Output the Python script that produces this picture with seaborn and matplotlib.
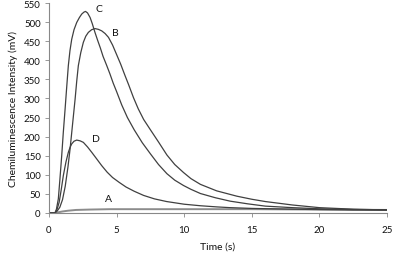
import matplotlib
matplotlib.use('Agg')
import matplotlib.pyplot as plt
import pandas as pd
import seaborn as sns

# Curve data (time in s, intensity in mV)
t_a = [0, 0.44, 0.7, 1.0, 1.4, 2.0, 3.0, 4.5, 7.0, 10.0, 15.0, 20.0, 25.0]
v_a = [0, 0, 2, 4, 6, 8, 9, 10, 10, 10, 10, 9, 8]

t_b = [0, 0.44, 0.6, 0.8, 1.0, 1.2, 1.4, 1.56, 1.75, 1.93, 2.05, 2.17, 2.35, 2.54,
       2.72, 2.91, 3.15, 3.4, 3.65, 3.9, 4.15, 4.4, 4.7, 5.0, 5.3, 5.6, 5.9, 6.25,
       6.6, 7.0, 7.5, 8.1, 8.72, 9.3, 9.95, 10.5, 11.2, 12.4, 13.9, 15.0, 16.0,
       18.0, 20.0, 22.5, 25.0]
v_b = [0, 0, 5, 15, 35, 70, 120, 168, 235, 298, 345, 386, 420, 447,
       463, 473, 480, 483, 481, 477, 470, 460, 440, 415, 390, 362, 335, 302,
       273, 245, 218, 186, 152, 127, 106, 90, 75, 58, 44, 36, 30,
       21, 14, 10, 8]

t_c = [0, 0.44, 0.55, 0.69, 0.8, 0.94, 1.06, 1.19, 1.31, 1.43, 1.55, 1.68, 1.85,
       2.05, 2.25, 2.42, 2.58, 2.7, 2.85, 3.04, 3.2, 3.4, 3.6, 3.8, 4.0, 4.25, 4.5,
       4.75, 5.0, 5.38, 5.8, 6.3, 6.9, 7.5, 8.1, 8.72, 9.3, 9.95, 10.5, 11.2, 12.3,
       13.4, 14.7, 16.0, 18.0, 20.0, 22.5, 25.0]
v_c = [0, 0, 10, 37, 85, 150, 212, 272, 330, 386, 425, 455, 480,
       499, 512, 521, 526, 528, 524, 512, 496, 473, 452, 432, 410, 388, 365,
       340, 318, 283, 250, 218, 184, 155, 127, 103, 86, 72, 62, 51, 40,
       31, 24, 18, 14, 11, 9, 8]

t_d = [0, 0.44, 0.6, 0.75, 0.9, 1.06, 1.25, 1.43, 1.56, 1.68, 1.85, 2.05, 2.3,
       2.54, 2.85, 3.16, 3.5, 3.9, 4.3, 4.7, 5.2, 5.7, 6.3, 7.0, 7.8, 8.7, 10.0,
       11.2, 12.4, 13.4, 15.0, 16.5, 18.0, 20.0, 22.5, 25.0]
v_d = [0, 0, 10, 28, 60, 98, 133, 159, 172, 181, 188, 191, 189,
       185, 173, 159, 143, 124, 107, 93, 80, 68, 57, 46, 37, 30, 23,
       19, 16, 14, 12, 11, 10, 9, 8, 8]

curve_names = ['A', 'B', 'C', 'D']
label_pos = {'A': (4.4, 37), 'B': (4.9, 474), 'C': (3.7, 535), 'D': (3.5, 196)}

frames = []
for name, t, v in zip(curve_names, [t_a, t_b, t_c, t_d], [v_a, v_b, v_c, v_d]):
    frames.append(pd.DataFrame({'Time': t, 'Intensity': v, 'Sample': name}))
df = pd.concat(frames, ignore_index=True)

sns.set_style('white')
plt.rcParams['font.family'] = ['Lato', 'DejaVu Sans']

fig = plt.figure(figsize=(3.94, 2.55), dpi=100)
ax = fig.add_axes([49 / 394, 41 / 255, 338 / 394, 210 / 255])

palette = {'A': '#8c8c8c', 'B': '#404040', 'C': '#404040', 'D': '#404040'}
widths = {'A': 1.4, 'B': 0.9, 'C': 0.9, 'D': 0.9}
for name in curve_names:
    sns.lineplot(data=df[df['Sample'] == name], x='Time', y='Intensity',
                 color=palette[name], linewidth=widths[name], estimator=None,
                 ax=ax, legend=False)
    lx, ly = label_pos[name]
    ax.text(lx, ly, name, fontsize=7.5, color='#111111', ha='center', va='center')

ax.set_xlim(0, 25)
ax.set_ylim(0, 550)
ax.set_xticks(range(0, 26, 5))
ax.set_yticks(range(0, 551, 50))
ax.set_xlabel('Time (s)', fontsize=7.5, labelpad=5, color='#111111')
ax.set_ylabel('Chemiluminescence Intensity (mV)', fontsize=7.5, labelpad=4,
              color='#111111')
ax.tick_params(axis='both', labelsize=7, length=3, width=0.6, color='#888888',
               labelcolor='#111111', direction='out', left=True, bottom=True)
ax.tick_params(axis='x', pad=6)
ax.tick_params(axis='y', pad=3)
for side in ['top', 'right']:
    ax.spines[side].set_visible(False)
for side in ['left', 'bottom']:
    ax.spines[side].set_color('#888888')
    ax.spines[side].set_linewidth(0.8)

fig.savefig('out.png', dpi=100)
